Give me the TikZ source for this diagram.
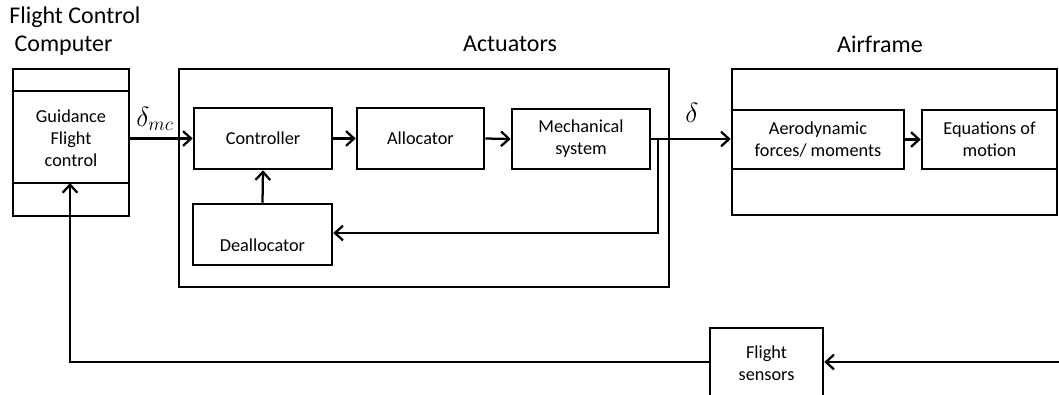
\documentclass[tikz,border=0pt]{standalone}
\usepackage{fontspec}
\setmainfont{Carlito}
\usetikzlibrary{arrows.meta}
\tikzset{
  box/.style={draw, line width=1.9pt, rectangle, inner sep=0pt, align=center,
    font=\fontsize{13.7}{16.5}\selectfont},
  ln/.style={line width=1.7pt},
  arr/.style={ln, -{Straight Barb[length=6pt,width=11pt,line width=1.7pt]}},
  title/.style={font=\fontsize{18}{21}\selectfont, inner sep=0pt},
  lab/.style={font=\fontsize{21}{22}\selectfont, inner sep=0pt},
  txt/.style={font=\fontsize{13.7}{16.5}\selectfont, inner sep=0pt, align=center}
}
\begin{document}
\begin{tikzpicture}[x=0.75pt,y=-0.75pt]
\useasboundingbox (0,0) rectangle (1059,394);
\begin{scope}
\clip (0,0) rectangle (1059,394);
% titles
\node[title, anchor=west, align=left] (fcct) at (9,31.5) {Flight Control\\[0pt]\hspace*{4pt}Computer};
\node[title] (actt) at (510,44) {Actuators};
\node[title] (airt) at (880,44) {Airframe};
% Flight control computer
\node[box, minimum width=87pt, minimum height=110.25pt] (fcc) at (71,142.5) {};
\draw[ln] (13,91) coordinate (fl1) -- (129,91) coordinate (fr1);
\draw[ln] (13,183) coordinate (fl2) -- (129,183) coordinate (fr2);
\node[txt] (gfc) at (71,138) {Guidance\\Flight\\control};
% Actuators
\node[box, minimum width=367.5pt, minimum height=163.5pt] (act) at (424,178) {};
\node[box, minimum width=103.5pt, minimum height=45.75pt] (ctrl) at (263,138.5) {Controller};
\node[box, minimum width=95.25pt, minimum height=45.75pt] (alloc) at (420.5,138.5) {Allocator};
\node[box, minimum width=103.5pt, minimum height=45pt] (mech) at (581,139) {Mechanical\\system};
\node[box, minimum width=104.25pt, minimum height=45.75pt] (deal) at (262.5,234.5) {};
\node[txt] (dealt) at (262.5,245) {Deallocator};
% Airframe
\node[box, minimum width=243.75pt, minimum height=109.5pt] (air) at (894.5,142) {};
\node[box, minimum width=129pt, minimum height=44.25pt] (aero) at (818,139.5) {Aerodynamic\\forces/ moments};
\node[box, minimum width=101.25pt, minimum height=44.25pt] (eom) at (989.5,139.5) {Equations of\\motion};
% Flight sensors
\node[box, minimum width=84.75pt, minimum height=54pt] (fs) at (766.5,364) {};
\node[txt] (fst) at (766.5,363) {Flight\\sensors};
% connectors
\draw[arr] (fcc.east |- ctrl.west) -- (ctrl.west);
\node[lab] (dmc) at (155,119) {$\delta_{mc}$};
\draw[arr] (ctrl.east) -- (alloc.west);
\draw[arr] (alloc.east) -- (mech.west);
\draw[arr] (mech.east) -- (aero.west |- mech.east);
\node[lab] (d) at (692,113) {$\delta$};
\coordinate (fbk) at (658,140);
\draw[arr] (fbk) -- (658,233) -- (deal.east |- 0,233);
\draw[arr] (deal.north) -- (ctrl.south);
\draw[arr] (aero.east) -- (eom.west);
\coordinate (rin) at (1060,362);
\draw[arr] (rin) -- (fs.east |- rin);
\draw[arr] (fs.west |- rin) -- (70,362) -- (70,183);
\end{scope}
\end{tikzpicture}
\end{document}
